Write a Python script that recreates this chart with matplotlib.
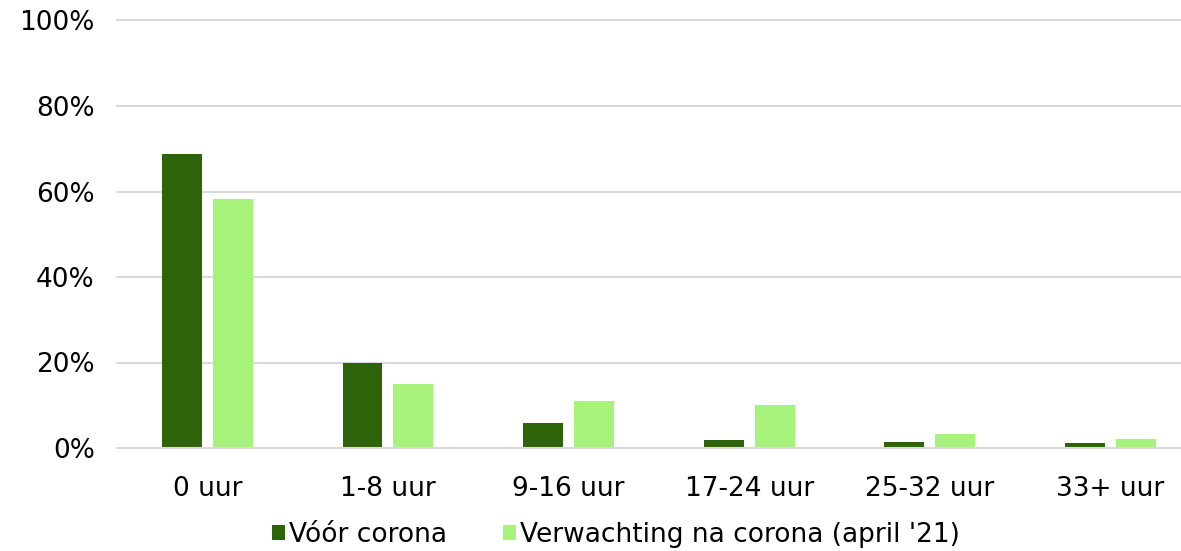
import matplotlib.pyplot as plt
import numpy as np

categories = ['0 uur', '1-8 uur', '9-16 uur', '17-24 uur', '25-32 uur', '33+ uur']
voor_corona = [68.8, 19.9, 5.9, 1.9, 1.5, 1.1]
na_corona = [58.2, 15.0, 11.1, 10.0, 3.2, 2.0]
series_names = ['Vóór corona', "Verwachting na corona (april '21)"]

plt.rcParams['font.family'] = ['DejaVu Sans']

fig = plt.figure(figsize=(11.81, 5.51), dpi=100)
ax = fig.add_axes([117 / 1181, 1 - 448 / 551, 1 - 117 / 1181, (448 - 20.5) / 551])

x = np.arange(len(categories))
w = 0.221
off = 0.141
ax.bar(x - off, voor_corona, w, color='#2D6409', label=series_names[0], zorder=3)
ax.bar(x + off, na_corona, w, color='#A6F27B', label=series_names[1], zorder=3)

ax.set_ylim(0, 100)
ax.set_xlim(-0.5, 5.39)
ax.set_yticks(range(0, 101, 20))
ax.set_yticklabels([f'{v}%' for v in range(0, 101, 20)])
ax.set_xticks(x)
ax.set_xticklabels(categories)
ax.tick_params(axis='both', length=0, labelsize=19, colors='black')
ax.tick_params(axis='y', pad=16)
ax.tick_params(axis='x', pad=20)
ax.grid(axis='y', color='#D9D9D9', linewidth=1.5, zorder=0, clip_on=False)
for gl in ax.get_ygridlines():
    gl.set_clip_on(False)
ax.set_axisbelow(True)
for s in ['top', 'right', 'left']:
    ax.spines[s].set_visible(False)
ax.spines['bottom'].set_color('#D9D9D9')
ax.spines['bottom'].set_linewidth(1.5)
ax.spines['bottom'].set_zorder(4)

fig.legend(loc='center', bbox_to_anchor=(616 / 1181, 1 - 535 / 551), ncol=2,
           frameon=False, fontsize=19, handlelength=0.5, handleheight=0.5,
           handletextpad=0.15, columnspacing=2.1)

fig.savefig('out.png', dpi=100)
